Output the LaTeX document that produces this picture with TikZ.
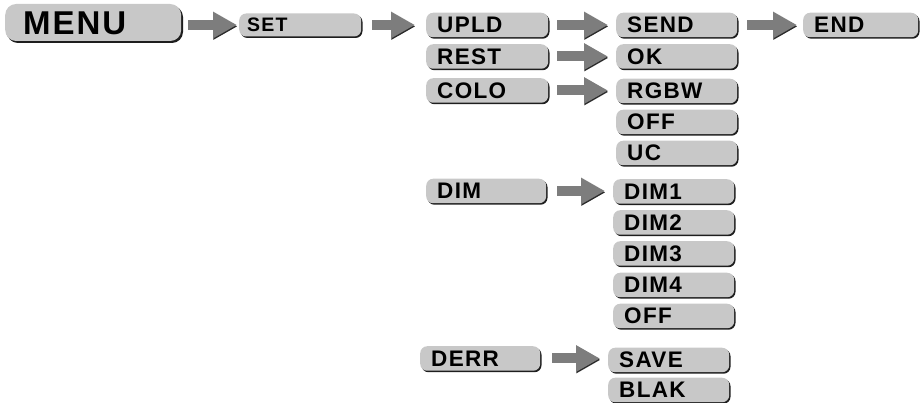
\documentclass[tikz,border=0pt]{standalone}
\usepackage{fontspec}
\newfontfamily\lbl{Liberation Sans}[LetterSpace=6]
\usetikzlibrary{arrows.meta,shadows}
\definecolor{boxgray}{HTML}{C8C8C8}
\definecolor{boxdark}{HTML}{1E1E1E}
\definecolor{arrgray}{HTML}{7D7D7D}
\definecolor{arrdark}{HTML}{2A2A2A}
\begin{document}
\begin{tikzpicture}[x=1pt,y=-1pt,
  box/.style={fill=boxgray, rounded corners=7pt,
    drop shadow={shadow xshift=1.3pt, shadow yshift=-1.5pt, fill=boxdark, opacity=1},
    anchor=west, minimum height=24.5pt, inner ysep=0pt, inner xsep=11pt,
    text width=#1, align=left, text height=16pt, text depth=0pt,
    font=\lbl\bfseries\fontsize{22.5}{22.5}\selectfont},
  box/.default=100pt,
  arr/.style={arrgray, line width=10pt, -{Triangle[length=24pt,width=25pt]},
    shorten <=9pt, shorten >=8pt,
    preaction={draw=arrdark, transform canvas={shift={(0.4pt,-1.4pt)}}}}]
\useasboundingbox (0,0) rectangle (922,403);
% column 1
\node[box=140pt, inner xsep=18pt, minimum height=37pt, rounded corners=11pt,
  drop shadow={shadow xshift=1.8pt, shadow yshift=-2pt, fill=boxdark, opacity=1},
  text height=23.6pt, font=\lbl\bfseries\fontsize{33}{33}\selectfont] (menu) at (5,22.5) {MENU};
\node[box=106pt, inner xsep=8pt, minimum height=23pt, text height=14pt,
  font=\lbl\bfseries\fontsize{19.5}{19.5}\selectfont] (set) at (239,25) {SET};
% column 2
\node[box] (upld) at (426,25) {UPLD};
\node[box] (rest) at (426,56.5) {REST};
\node[box] (colo) at (426,90.5) {COLO};
\node[box=98pt] (dim) at (426,191) {DIM};
\node[box=98pt] (derr) at (420,358.5) {DERR};
% column 3
\node[box=99pt] (send) at (616,25) {SEND};
\node[box=99pt] (ok) at (616,56.5) {OK};
\node[box=99pt] (rgbw) at (616,91) {RGBW};
\node[box=99pt] (off) at (616,122) {OFF};
\node[box=99pt] (uc) at (616,153) {UC};
\node[box=99pt] (dimone) at (613,191.5) {DIM1};
\node[box=99pt] (dimtwo) at (613,222.5) {DIM2};
\node[box=99pt] (dimthree) at (613,253.5) {DIM3};
\node[box=99pt] (dimfour) at (613,285) {DIM4};
\node[box=99pt] (offtwo) at (613,316) {OFF};
\node[box=99pt] (save) at (608,360) {SAVE};
\node[box=99pt] (blak) at (608,390) {BLAK};
% column 4
\node[box=93pt] (end) at (803,25) {END};
% arrows
\draw[arr, shorten <=7pt, shorten >=2pt] (menu.east |- set.west) -- (set.west);
\draw[arr, shorten <=11pt, shorten >=11pt] (set.east) -- (upld.west);
\draw[arr] (upld.east) -- (send.west);
\draw[arr, shorten <=10pt, shorten >=6pt] (send.east) -- (end.west);
\draw[arr] (rest.east) -- (ok.west);
\draw[arr] (colo.east) -- (colo.east -| rgbw.west);
\draw[arr, shorten <=11pt] (dim.east) -- (dim.east -| dimone.west);
\draw[arr, shorten <=12pt] (derr.east) -- (derr.east -| save.west);
\end{tikzpicture}
\end{document}
